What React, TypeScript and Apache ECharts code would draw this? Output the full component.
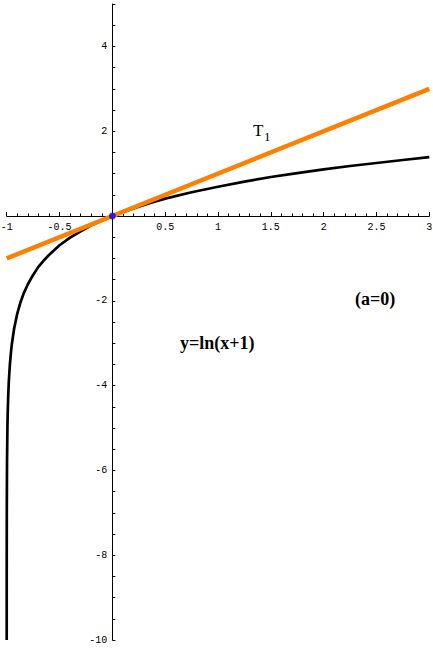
import React, { useEffect, useRef } from "react";
import * as echarts from "echarts";

// y = ln(x+1)
const curveX = [
  -0.99996, -0.9999, -0.9997, -0.999, -0.997, -0.993, -0.99, -0.985, -0.98, -0.97,
  -0.96, -0.95, -0.93, -0.9, -0.87, -0.84, -0.8, -0.75, -0.7, -0.65, -0.6, -0.5,
  -0.4, -0.3, -0.2, -0.1, 0, 0.1, 0.2, 0.35, 0.5, 0.75, 1, 1.25, 1.5, 1.75, 2,
  2.25, 2.5, 2.75, 3,
];
const curveY = [
  -10, -9.21, -8.11, -6.91, -5.81, -4.96, -4.61, -4.2, -3.91, -3.51,
  -3.22, -3.0, -2.66, -2.3, -2.04, -1.83, -1.61, -1.39, -1.2, -1.05, -0.92, -0.69,
  -0.51, -0.36, -0.22, -0.105, 0, 0.095, 0.18, 0.3, 0.41, 0.56, 0.69, 0.81, 0.92, 1.01, 1.1,
  1.18, 1.25, 1.32, 1.39,
];

// tangent line T1: y = x
const tangentX = [-1, 3];
const tangentY = [-1, 3];

// point of tangency (a = 0)
const pointX = [0];
const pointY = [0];

const xRange = [-1, 3];
const yRange = [-10, 5];

const zip = (xs: number[], ys: number[]) => xs.map((x, i) => [x, ys[i]]);

const tickFont = "'Liberation Mono', 'DejaVu Sans Mono', monospace";
const textFont = "'Liberation Serif', 'DejaVu Serif', serif";

const W = 433;
const H = 650;
const G = { left: 6.7, right: 3.7, top: 4, bottom: 10 };

export default function App() {
  const ref = useRef<HTMLDivElement>(null);

  useEffect(() => {
    document.body.style.margin = "0";
    if (!ref.current) return;
    const chart = echarts.init(ref.current, undefined, { renderer: "svg" });
    const isNear = (v: number, m: number) => Math.abs(v / m - Math.round(v / m)) < 1e-6;

    // place axes on the origin through offsets derived from the axis ranges
    const plotW = W - G.left - G.right;
    const plotH = H - G.top - G.bottom;
    const zeroXpx = ((0 - xRange[0]) / (xRange[1] - xRange[0])) * plotW; // from left edge of grid
    const zeroYpx = ((0 - yRange[0]) / (yRange[1] - yRange[0])) * plotH; // from bottom edge of grid

    chart.setOption({
      animation: false,
      backgroundColor: "#ffffff",
      grid: { ...G, containLabel: false, outerBoundsMode: "none" },
      xAxis: {
        type: "value",
        min: xRange[0],
        max: xRange[1],
        interval: 0.5,
        position: "bottom",
        offset: -zeroYpx,
        axisLine: { onZero: false, lineStyle: { color: "#000", width: 1 } },
        axisTick: { show: true, inside: true, length: 4, lineStyle: { color: "#000", width: 1 } },
        minorTick: { show: true, splitNumber: 5, length: 2.5, lineStyle: { color: "#000", width: 1 } },
        splitLine: { show: false },
        minorSplitLine: { show: false },
        axisLabel: {
          show: true,
          margin: 6,
          color: "#000",
          fontFamily: tickFont,
          fontSize: 10,
          showMinLabel: true,
          showMaxLabel: true,
          formatter: (v: number) => (Math.abs(v) < 1e-9 ? "" : String(v)),
        },
      },
      yAxis: {
        type: "value",
        min: yRange[0],
        max: yRange[1],
        interval: 0.5,
        position: "left",
        offset: -zeroXpx,
        axisLine: { onZero: false, lineStyle: { color: "#000", width: 1 } },
        axisTick: { show: true, inside: true, length: 3, lineStyle: { color: "#000", width: 1 } },
        splitLine: { show: false },
        axisLabel: {
          show: true,
          margin: 5,
          color: "#000",
          fontFamily: tickFont,
          fontSize: 10,
          formatter: (v: number) =>
            Math.abs(v) < 1e-9 || !isNear(v, 2) ? "" : String(Math.round(v)),
        },
      },
      series: [
        {
          type: "line",
          data: zip(curveX, curveY),
          showSymbol: false,
          symbol: "none",
          smooth: false,
          lineStyle: { color: "#000000", width: 2.7 },
          z: 2,
        },
        {
          type: "line",
          data: zip(tangentX, tangentY),
          showSymbol: false,
          symbol: "none",
          lineStyle: { color: "#ff7f00", width: 4.5 },
          z: 3,
        },
        {
          type: "scatter",
          data: zip(pointX, pointY),
          symbol: "circle",
          symbolSize: 7,
          itemStyle: { color: "#0000ff" },
          z: 4,
        },
      ],
      graphic: [
        {
          type: "text",
          left: 253,
          top: 122,
          style: { text: "T", fontFamily: textFont, fontSize: 17, fill: "#000" },
        },
        {
          type: "text",
          left: 264,
          top: 130,
          style: { text: "1", fontFamily: textFont, fontSize: 13, fill: "#000" },
        },
        {
          type: "text",
          left: 355,
          top: 290,
          style: { text: "(a=0)", fontFamily: textFont, fontSize: 18, fontWeight: "bold", fill: "#000" },
        },
        {
          type: "text",
          left: 180,
          top: 334,
          style: { text: "y=ln(x+1)", fontFamily: textFont, fontSize: 18, fontWeight: "bold", fill: "#000" },
        },
      ],
    });
    return () => chart.dispose();
  }, []);

  return <div ref={ref} style={{ width: W, height: H }} />;
}
